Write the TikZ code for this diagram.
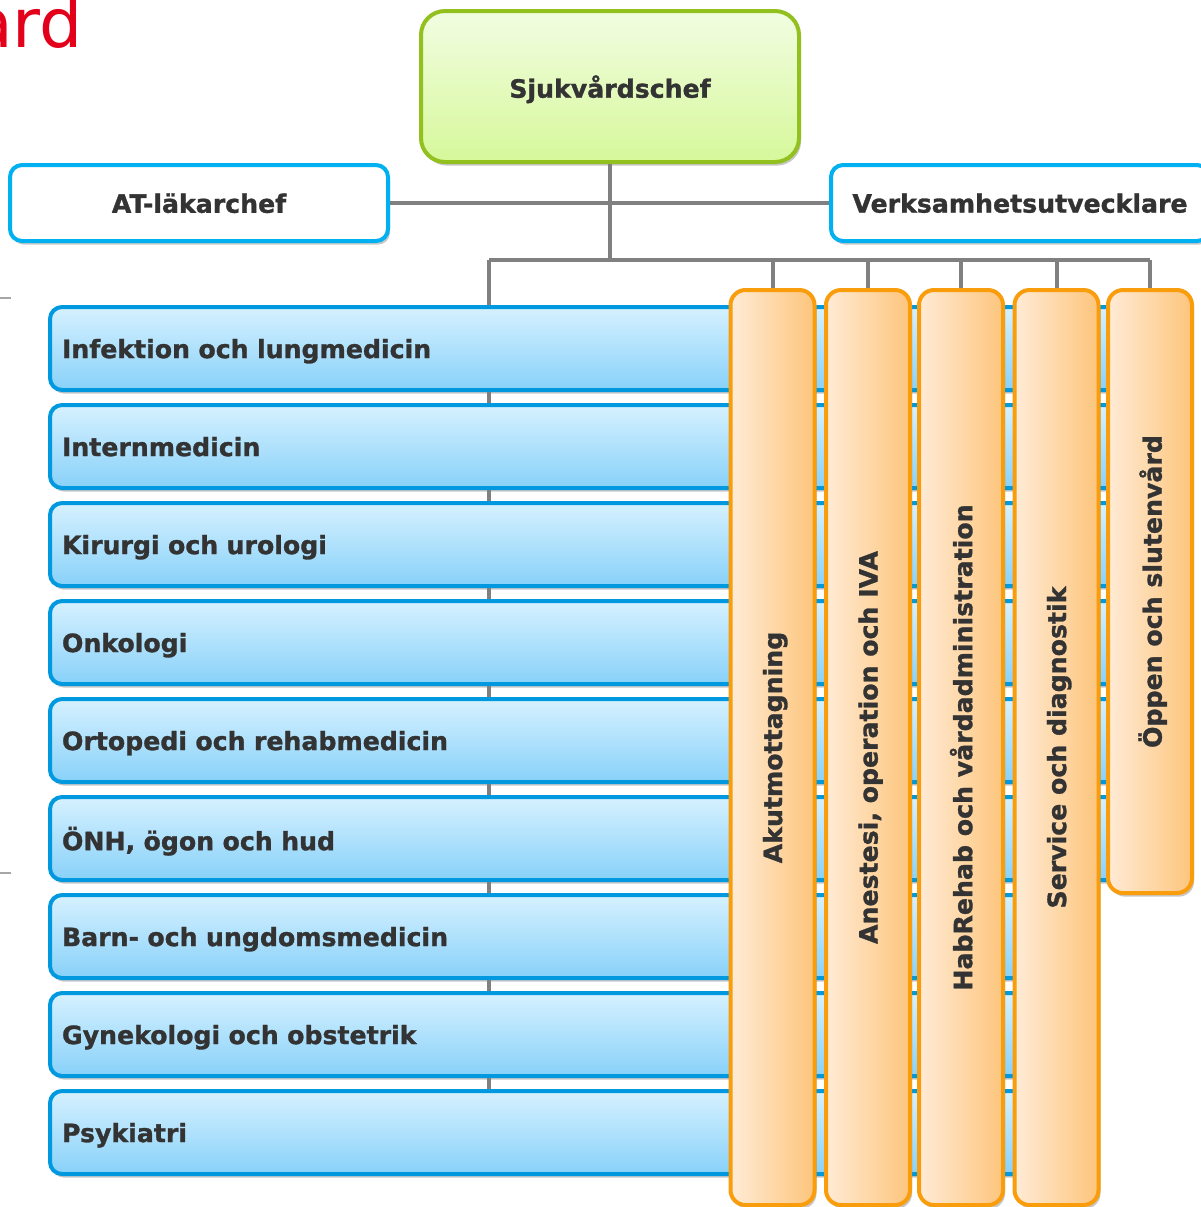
\documentclass[tikz,border=0pt]{standalone}
\usepackage{fontspec}
\setmainfont[BoldFeatures={FakeBold=1.2}]{DejaVu Sans}
\usetikzlibrary{shadows}
\definecolor{txt}{HTML}{333333}
\definecolor{grayline}{HTML}{808080}
\definecolor{greenb}{HTML}{92C01F}
\definecolor{greent}{HTML}{F2FDE2}
\definecolor{greenbt}{HTML}{D6F89A}
\definecolor{cyanb}{HTML}{00B0F0}
\definecolor{blueb}{HTML}{0099DF}
\definecolor{bluet}{HTML}{D6F1FF}
\definecolor{bluebt}{HTML}{88D1F9}
\definecolor{orangeb}{HTML}{F99D0C}
\definecolor{orangel}{HTML}{FFEBD6}
\definecolor{oranger}{HTML}{FDC57C}
\definecolor{redtxt}{HTML}{E2001A}
\tikzset{
  shad/.style={drop shadow={shadow xshift=1pt, shadow yshift=-1.8pt, opacity=0.22, fill=black}},
  lbl/.style={font=\fontsize{12.6}{15}\selectfont\bfseries, text=txt, text depth=0pt},
  chiefbox/.style={lbl, shad, draw=greenb, line width=2pt, rounded corners=12pt,
    top color=greent, bottom color=greenbt, minimum width=189pt, minimum height=75.5pt, inner sep=0pt},
  staffbox/.style={lbl, shad, draw=cyanb, line width=2pt, rounded corners=6pt, fill=white,
    minimum width=189pt, minimum height=38pt, inner sep=0pt},
  rowbox/.style={lbl, shad, draw=blueb, line width=2pt, rounded corners=6pt,
    top color=bluet, bottom color=bluebt, minimum height=41.5pt, inner xsep=6pt, inner ysep=0pt, align=left},
  colbox/.style={lbl, shad, draw=orangeb, line width=2pt, rounded corners=7.5pt,
    left color=orangel, right color=oranger, minimum height=42pt, inner sep=0pt, rotate=90},
  conn/.style={draw=grayline, line width=2pt},
}
\begin{document}
\begin{tikzpicture}[x=0.5pt,y=-0.5pt]
\useasboundingbox (0,0) rectangle (1201,1207);
% slide remnants
\node[anchor=base east, inner sep=0pt, text=redtxt, font=\fontsize{34}{40}\selectfont] (title) at (83,47) {ård};
\coordinate (m1a) at (0,298); \coordinate (m1b) at (11,298);
\coordinate (m2a) at (0,873); \coordinate (m2b) at (11,873);
\draw[gray!70, line width=0.6pt] (m1a) -- (m1b);
\draw[gray!70, line width=0.6pt] (m2a) -- (m2b);

% coordinates of the bus
\coordinate (barL) at (489,260);
\coordinate (barR) at (1150,260);

% top boxes
\node[chiefbox] (chief) at (610,86.5) {Sjukvårdschef};
\node[staffbox] (at) at (199,203) {AT-läkarchef};
\node[staffbox] (vu) at (1020,203) {Verksamhetsutvecklare};

% connectors
\draw[conn] (chief.south) -- (chief.south |- barL);
\draw[conn] (at.east) -- (vu.west);
\draw[conn] (barL) -- (barR);

% rows
\foreach \n/\y/\w/\t in {
  1/348.5/1090/Infektion och lungmedicin,
  2/446.5/1090/Internmedicin,
  3/544.5/1090/Kirurgi och urologi,
  4/642.5/1090/Onkologi,
  5/740.5/1090/Ortopedi och rehabmedicin,
  6/838.5/1090/{ÖNH, ögon och hud},
  7/936.5/1040/Barn- och ungdomsmedicin,
  8/1034.5/1040/Gynekologi och obstetrik,
  9/1132.5/1040/Psykiatri}
{
  \pgfmathsetmacro{\cx}{50+\w/2}
  \pgfmathsetmacro{\tw}{\w/2-12}
  \node[rowbox, text width=\tw pt] (r\n) at (\cx,\y) {\t};
}
\draw[conn] (barL) -- (r1.north -| barL);
\foreach \a/\b in {1/2,2/3,3/4,4/5,5/6,6/7,7/8,8/9}
  \draw[conn] (r\a.south -| barL) -- (r\b.north -| barL);

% columns
\node[colbox, minimum width=457.5pt] (c1) at (772.5,747.5) {Akutmottagning};
\node[colbox, minimum width=457.5pt] (c2) at (868,747.5) {Anestesi, operation och IVA};
\node[colbox, minimum width=457.5pt] (c3) at (961,747.5) {HabRehab och vårdadministration};
\node[colbox, minimum width=457.5pt] (c4) at (1056.5,747.5) {Service och diagnostik};
\node[colbox, minimum width=301.5pt] (c5) at (1150,591.5) {Öppen och slutenvård};

\foreach \c in {1,...,5}
  \draw[conn] (c\c.east |- barL) -- (c\c.east);
\end{tikzpicture}
\end{document}
